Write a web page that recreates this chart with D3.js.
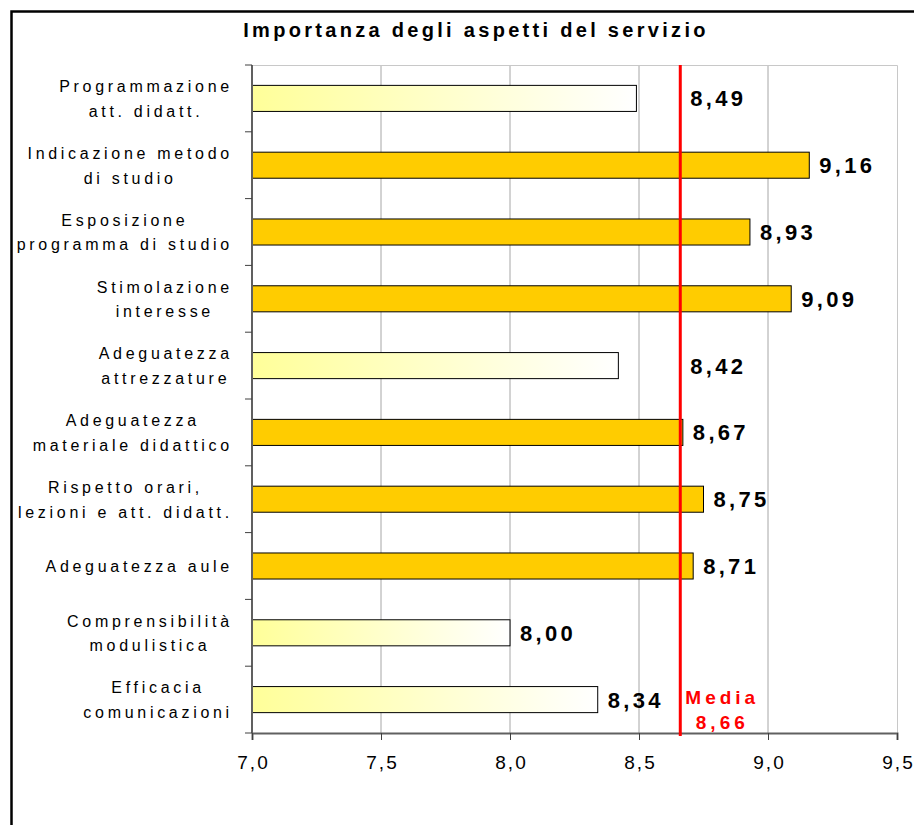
<!DOCTYPE html>
<html lang="it">
<head>
<meta charset="utf-8">
<title>Importanza degli aspetti del servizio</title>
<script src="https://cdn.jsdelivr.net/npm/d3@7"></script>
<style>
  body { margin: 0; background: #fff; }
  svg { display: block; font-family: "Liberation Sans", Arial, sans-serif; }
</style>
</head>
<body>
<script>
// dati
var categories = [
  ["Programmazione", "att. didatt."],
  ["Indicazione metodo", "di studio"],
  ["Esposizione", "programma di studio"],
  ["Stimolazione", "interesse"],
  ["Adeguatezza", "attrezzature"],
  ["Adeguatezza", "materiale didattico"],
  ["Rispetto orari,", "lezioni e att. didatt."],
  ["Adeguatezza aule"],
  ["Comprensibilità", "modulistica"],
  ["Efficacia", "comunicazioni"]
];
var values = [8.49, 9.16, 8.93, 9.09, 8.42, 8.67, 8.75, 8.71, 8.00, 8.34];
var media = 8.66;
var xTicks = [7.0, 7.5, 8.0, 8.5, 9.0, 9.5];
var title = "Importanza degli aspetti del servizio";

var w = 914, h = 825;
var margin = {top: 65, right: 17, bottom: 92, left: 252};

var it = d3.formatLocale({decimal: ",", thousands: ".", grouping: [3], currency: ["", " €"]});
var fmt1 = it.format(".1f"), fmt2 = it.format(".2f");

var svg = d3.select("body").append("svg")
  .attr("width", w)
  .attr("height", h);

svg.append("rect").attr("width", w).attr("height", h).attr("fill", "#fff");

var defs = svg.append("defs");
var grad = defs.append("linearGradient").attr("id", "giallo")
  .attr("x1", "0%").attr("x2", "100%").attr("y1", "0%").attr("y2", "0%");
grad.append("stop").attr("offset", "0%").attr("stop-color", "#ffff99");
grad.append("stop").attr("offset", "100%").attr("stop-color", "#ffffff");

// cornice
svg.append("rect")
  .attr("x", 11.5).attr("y", 11.5)
  .attr("width", 1000).attr("height", 1000)
  .attr("fill", "none").attr("stroke", "#000").attr("stroke-width", 2.5);

svg.append("text")
  .attr("x", 476).attr("y", 37)
  .attr("text-anchor", "middle")
  .attr("font-size", "20px").attr("font-weight", "bold")
  .attr("letter-spacing", "3.3px")
  .text(title);

var x = d3.scaleLinear().domain([7, 9.5]).range([margin.left, w - margin.right]);
var y = d3.scaleBand().domain(d3.range(categories.length))
  .range([margin.top, h - margin.bottom])
  .paddingInner(0.61).paddingOuter(0.305);

var x0 = x.range()[0], x1 = x.range()[1];
var y0 = y.range()[0], y1 = y.range()[1];

// griglia
svg.append("g").selectAll("line")
  .data(xTicks.slice(1, -1))
  .enter().append("line")
  .attr("x1", function(d) { return x(d); })
  .attr("x2", function(d) { return x(d); })
  .attr("y1", y0).attr("y2", y1)
  .attr("stroke", "#a6a6a6").attr("stroke-width", 1);

// bordo area
svg.append("path")
  .attr("d", "M" + x0 + "," + (y0 + 0.5) + "H" + (x1 + 0.5) + "V" + y1)
  .attr("fill", "none").attr("stroke", "#c8c8c8").attr("stroke-width", 1);

// barre
svg.append("g").selectAll("rect")
  .data(values)
  .enter().append("rect")
  .attr("x", x(7))
  .attr("y", function(d, i) { return y(i); })
  .attr("width", function(d) { return x(d) - x(7); })
  .attr("height", y.bandwidth())
  .attr("fill", function(d) { return d < media ? "url(#giallo)" : "#ffcc00"; })
  .attr("stroke", "#000").attr("stroke-width", 1);

// assi
var xAxis = svg.append("g")
  .attr("transform", "translate(0," + y1 + ")")
  .call(d3.axisBottom(x).tickValues(xTicks).tickFormat(fmt1).tickSize(7).tickPadding(16));
xAxis.attr("font-size", null).attr("font-family", null);
xAxis.select(".domain").attr("stroke", "#606060").attr("stroke-width", 2);
xAxis.selectAll(".tick line").attr("stroke", "#404040");
xAxis.selectAll("text")
  .style("font-size", "19px").attr("fill", "#000")
  .attr("letter-spacing", "2.1px").attr("dx", "1px");

var bounds = d3.range(categories.length + 1).map(function(i) {
  return y0 + i * y.step();
});
var yAxis = svg.append("g");
yAxis.append("line")
  .attr("x1", x0).attr("x2", x0).attr("y1", y0).attr("y2", y1)
  .attr("stroke", "#606060").attr("stroke-width", 2);
yAxis.selectAll(".tk").data(bounds).enter().append("line")
  .attr("x1", x0 - 7).attr("x2", x0)
  .attr("y1", function(d) { return d; }).attr("y2", function(d) { return d; })
  .attr("stroke", "#404040");

// etichette categorie
var lineH = 24.6;
var labels = svg.append("g").selectAll("g")
  .data(categories)
  .enter().append("g");
labels.each(function(lines, i) {
  var g = d3.select(this);
  var cy = y(i) + y.bandwidth() / 2;
  var t = g.selectAll("text").data(lines).enter().append("text")
    .attr("font-size", "16px")
    .attr("letter-spacing", "3.7px")
    .attr("text-anchor", "middle")
    .attr("y", function(d, j) { return cy + (j - (lines.length - 1) / 2) * lineH + 6; })
    .text(function(d) { return d; });
  var maxW = 0;
  t.each(function() { maxW = Math.max(maxW, this.getComputedTextLength()); });
  t.attr("x", x0 - 21 - maxW / 2 + 1.85);
});

// linea media
svg.append("line")
  .attr("x1", x(media)).attr("x2", x(media))
  .attr("y1", y0).attr("y2", y1 + 3)
  .attr("stroke", "#ff0000").attr("stroke-width", 3);

svg.append("g").selectAll("text")
  .data(["Media", fmt2(media)])
  .enter().append("text")
  .attr("x", x(media) + 42)
  .attr("y", function(d, i) { return y1 - 29 + i * 25; })
  .attr("text-anchor", "middle")
  .attr("font-size", "19px").attr("font-weight", "bold")
  .attr("letter-spacing", "4px")
  .attr("fill", "#ff0000")
  .text(function(d) { return d; });

// etichette valori: se l'etichetta tocca la linea media va oltre la linea
var labelW = 60;
svg.append("g").selectAll("text")
  .data(values)
  .enter().append("text")
  .attr("x", function(d) {
    var lx = x(d) + 10;
    if (lx < x(media) && lx + labelW > x(media)) lx = x(media) + 10;
    return lx;
  })
  .attr("y", function(d, i) { return y(i) + y.bandwidth() / 2; })
  .attr("dy", "0.36em")
  .attr("font-size", "22px").attr("font-weight", "bold")
  .attr("letter-spacing", "3.3px")
  .text(function(d) { return fmt2(d); });
</script>
</body>
</html>
